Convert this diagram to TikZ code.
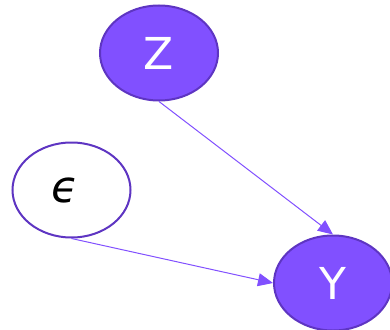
\documentclass[tikz,border=0pt]{standalone}
\usepackage{fontspec}
\setmainfont{DejaVu Sans}
\usetikzlibrary{shapes.geometric,arrows.meta}
\definecolor{vfill}{HTML}{8150FF}
\definecolor{vborder}{HTML}{5E35C2}
\definecolor{vedge}{HTML}{8150FF}
\begin{document}
\begin{tikzpicture}[x=1pt,y=-1pt,
  varnode/.style={ellipse,draw=vborder,line width=2pt,minimum width=118pt,minimum height=95pt,inner sep=0pt,font=\fontsize{44}{44}\selectfont},
  filled/.style={varnode,fill=vfill,text=white},
  plain/.style={varnode,fill=white,text=black},
  edge/.style={draw=vedge,line width=1pt,-{Triangle[length=15pt,width=13pt]}}]
\useasboundingbox (0,0) rectangle (390,329);
\node[filled] (Z) at (159,53) {Z};
\node[plain] (E) at (71.5,190) {\hspace*{-12pt}\itshape ϵ};
\node[filled] (Y) at (333,283) {Y};
\draw[edge] (Z.south) -- (Y.north);
\draw[edge] (E.south) -- (Y.west);
\end{tikzpicture}
\end{document}
